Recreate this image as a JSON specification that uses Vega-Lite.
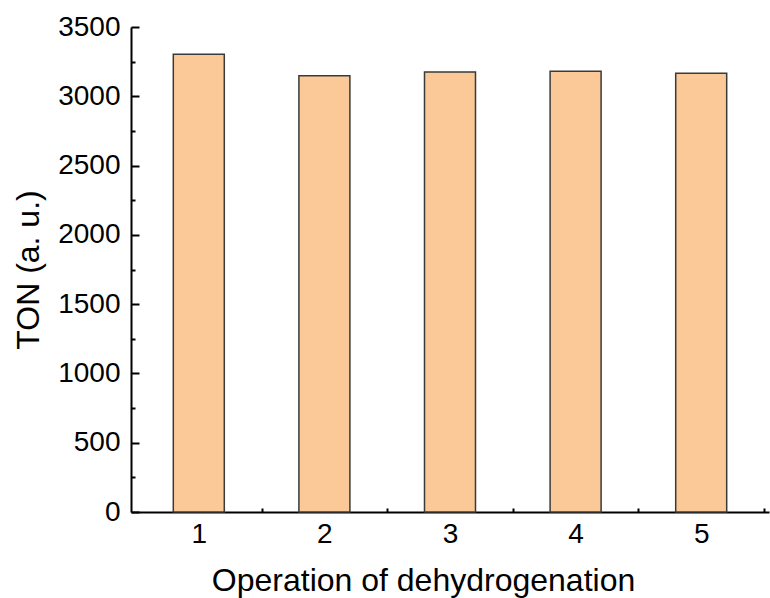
{
  "$schema": "https://vega.github.io/schema/vega-lite/v6.json",
  "width": 638,
  "height": 485,
  "autosize": "none",
  "padding": {"left": 131, "top": 27, "right": 1, "bottom": 86},
  "background": "white",
  "data": {"values": [
    {"op": 1, "ton": 3303},
    {"op": 2, "ton": 3148},
    {"op": 3, "ton": 3175},
    {"op": 4, "ton": 3180},
    {"op": 5, "ton": 3166}
  ]},
  "config": {
    "view": {"stroke": null},
    "font": "Liberation Sans",
    "axis": {"grid": false, "domainColor": "black", "domainWidth": 2, "tickColor": "black", "tickWidth": 2, "labelColor": "black", "titleColor": "black", "labelFont": "Liberation Sans", "titleFont": "Liberation Sans", "titleFontWeight": "normal", "labelFontSize": 28, "titleFontSize": 32}
  },
  "resolve": {"axis": {"x": "independent", "y": "independent"}},
  "layer": [
    {
      "mark": {"type": "bar", "size": 51, "fill": "#FBC897", "stroke": "#3a3a3a", "strokeWidth": 1.5},
      "encoding": {
        "x": {"field": "op", "type": "quantitative", "scale": {"domain": [0.5, 5.5], "nice": false, "zero": false},
          "axis": {"orient": "bottom", "values": [1, 2, 3, 4, 5], "tickSize": -7, "labelPadding": 15, "title": "Operation of dehydrogenation", "titlePadding": 17, "titleX": 292, "format": "d"}},
        "y": {"field": "ton", "type": "quantitative", "scale": {"domain": [0, 3500], "nice": false},
          "axis": {"orient": "left", "values": [0, 500, 1000, 1500, 2000, 2500, 3000, 3500], "tickSize": -8, "labelPadding": 19, "title": "TON (a. u.)", "titlePadding": 12, "format": "d"}}
      }
    },
    {
      "mark": {"type": "point", "opacity": 0},
      "encoding": {
        "x": {"field": "op", "type": "quantitative", "scale": {"domain": [0.5, 5.5], "nice": false, "zero": false},
          "axis": {"orient": "bottom", "values": [1.5, 2.5, 3.5, 4.5, 5.5], "tickSize": -4, "labels": false, "domain": false, "title": null}},
        "y": {"field": "ton", "type": "quantitative", "scale": {"domain": [0, 3500], "nice": false},
          "axis": {"orient": "left", "values": [250, 750, 1250, 1750, 2250, 2750, 3250], "tickSize": -4, "labels": false, "domain": false, "title": null}}
      }
    }
  ]
}
